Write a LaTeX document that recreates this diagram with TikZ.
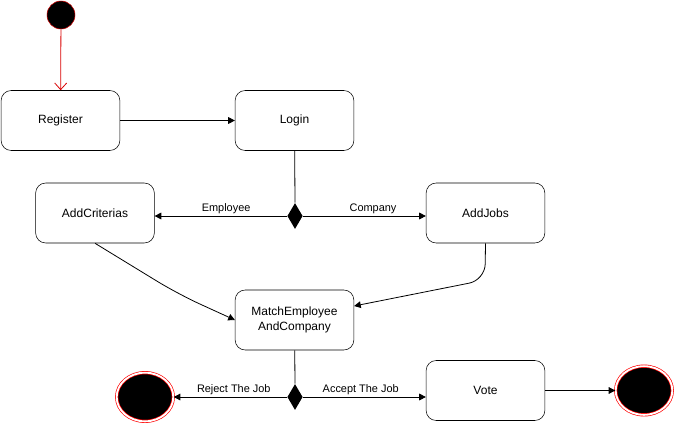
\documentclass[tikz,border=0pt]{standalone}
\usepackage{fontspec}
\setmainfont{Liberation Sans}
\usepackage{tikz}
\usetikzlibrary{positioning}
\usetikzlibrary{arrows.meta}
\usetikzlibrary{shapes.geometric}
\tikzset{activity/.style={draw, rounded corners=7.5pt, minimum width=89pt, minimum height=45pt, align=center, font=\fontsize{9}{11}\selectfont}}
\tikzset{startstate/.style={circle, fill=black, draw=red!80!black, minimum size=21pt, inner sep=0pt}}
\tikzset{endstate/.style={ellipse, fill=black, draw=red, double=white, double distance=1.4pt, line width=0.5pt, minimum width=42.5pt, minimum height=36.5pt, inner sep=0pt}}
\tikzset{choice/.style={diamond, fill=black, minimum width=11.5pt, minimum height=19.5pt, inner sep=0pt, aspect=0.6}}
\tikzset{flow/.style={-{Triangle[length=5pt, width=5pt]}, line width=0.6pt}}
\tikzset{guard/.style={font=\fontsize{8.2}{10}\selectfont, above, inner sep=1.2pt}}

\begin{document}
\begin{tikzpicture}[x=0.75pt, y=-0.75pt]
    \useasboundingbox (0,0) rectangle (676,437);

    \node[startstate] (start) at (61,15) {};
    \node[activity] (register) at (60.5,120.5) {Register};
    \node[activity] (login) at (294.5,120.5) {Login};
    \node[choice] (split) at (295,216) {};
    \node[activity] (criterias) at (95,213) {AddCriterias};
    \node[activity] (jobs) at (485.5,213) {AddJobs};
    \node[activity] (match) at (294.5,320) {MatchEmployee\\AndCompany};
    \node[choice] (decide) at (295,397) {};
    \node[endstate] (reject) at (145,397) {};
    \node[activity] (vote) at (485.5,390.5) {Vote};
    \node[endstate] (done) at (644,390.5) {};

    \draw[-{Straight Barb[length=5pt, width=9pt]}, red!85!black, line width=0.6pt] (start) -- (register);
    \draw[flow] (register) -- (login);
    \draw[line width=0.6pt] (login) -- (split.north);
    \draw[flow] (split.west) -- (split.west -| criterias.east)
        node[guard, pos=0.46]{Employee};
    \draw[flow] (split.east) -- (split.east -| jobs.west)
        node[guard, pos=0.57]{Company};
    \draw[flow, rounded corners=18pt] (criterias.south) -- (178,294) -- (match.west);
    \draw[flow, rounded corners=12pt] (jobs.south) -- (485,280) -- ([yshift=10.5pt]match.east);
    \draw[line width=0.6pt] (match) -- (decide.north);
    \draw[flow] (decide.west) -- (reject.east)
        node[guard, pos=0.47]{Reject The Job};
    \draw[flow] (decide.east) -- (decide.east -| vote.west)
        node[guard, pos=0.47]{Accept The Job};
    \draw[flow] (vote) -- (done);

    % \draw[help lines] (0,0) grid (676,437);
\end{tikzpicture}
\end{document}
